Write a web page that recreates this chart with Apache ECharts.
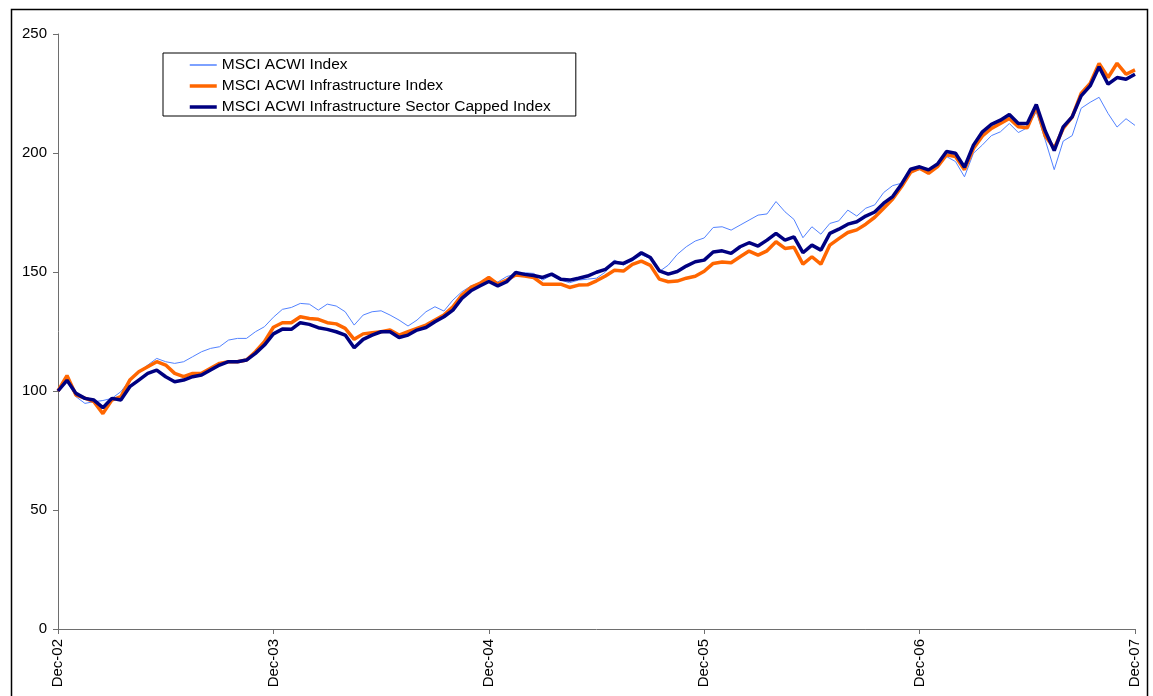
<!DOCTYPE html>
<html>
<head>
<meta charset="utf-8">
<title>MSCI ACWI Infrastructure</title>
<script src="https://cdn.jsdelivr.net/npm/echarts@6/dist/echarts.min.js"></script>
<style>
  html, body { margin: 0; padding: 0; background: #fff; }
  #chart { width: 1153px; height: 696px; }
</style>
</head>
<body>
<div id="chart"></div>
<script>
// x axis is months since Dec-02, one label every 12 months
const tickLabels = ['Dec-02', 'Dec-03', 'Dec-04', 'Dec-05', 'Dec-06', 'Dec-07']

const months = [
  0, 0.5, 1, 1.5, 2, 2.5, 3, 3.5, 4, 4.5, 5, 5.5, 6, 6.5, 7, 7.5, 8, 8.5, 9, 9.5, 10, 10.5, 11, 11.5,
  12, 12.5, 13, 13.5, 14, 14.5, 15, 15.5, 16, 16.5, 17, 17.5, 18, 18.5, 19, 19.5, 20, 20.5, 21, 21.5, 22, 22.5, 23, 23.5,
  24, 24.5, 25, 25.5, 26, 26.5, 27, 27.5, 28, 28.5, 29, 29.5, 30, 30.5, 31, 31.5, 32, 32.5, 33, 33.5, 34, 34.5, 35, 35.5,
  36, 36.5, 37, 37.5, 38, 38.5, 39, 39.5, 40, 40.5, 41, 41.5, 42, 42.5, 43, 43.5, 44, 44.5, 45, 45.5, 46, 46.5, 47, 47.5,
  48, 48.5, 49, 49.5, 50, 50.5, 51, 51.5, 52, 52.5, 53, 53.5, 54, 54.5, 55, 55.5, 56, 56.5, 57, 57.5, 58, 58.5, 59, 59.5,
  60
]

const acwi = [
  100, 104, 97.6, 94.8, 95.5, 96, 96.9, 99.7, 104.6, 108.1, 110.9, 113.7, 112.3, 111.6, 112.3, 114.4, 116.5, 117.9, 118.6, 121.4, 122.1, 122.1, 124.9, 127,
  131, 134.3, 135.1, 136.8, 136.5, 134, 136.5, 135.7, 133.3, 127.7, 131.9, 133.3, 133.7, 131.9, 129.8, 127.3, 129.8, 133.3, 135.4, 133.6, 138.2, 141.7, 144.1, 145.5,
  147, 145.8, 148.1, 149.1, 149.7, 149.4, 146.6, 148.7, 146.6, 145.5, 146.6, 147, 147.4, 150, 155, 152.9, 154.7, 157.2, 155.7, 150.2, 152.9, 157.4, 160.6, 163,
  164.3, 168.7, 169, 167.6, 169.7, 171.8, 173.9, 174.4, 179.6, 175.3, 172.1, 164.4, 169, 165.9, 170.4, 171.5, 176, 173.5, 176.8, 178.2, 183.4, 186.3, 187.3, 191.9,
  193, 192.2, 195, 198.5, 196.4, 190, 199.9, 203.4, 207.3, 208.9, 212.4, 208.6, 210.6, 217.3, 205.4, 193, 205, 207.3, 218.8, 221.3, 223.4, 216.6, 210.9, 214.4,
  211.6
]

const infra = [
  100, 106.5, 98.3, 97, 95.5, 90.5, 96.2, 97.6, 104.6, 108.1, 110.2, 112.3, 110.9, 107.4, 106, 107.4, 107.4, 109.5, 111.6, 112.3, 112.3, 113, 116.5, 120.7,
  126.8, 128.7, 128.7, 131.2, 130.5, 130.1, 128.7, 128.2, 126.3, 121.7, 124, 124.5, 124.9, 125.6, 123.5, 124.9, 126.3, 127.7, 129.8, 131.9, 135.4, 140.3, 143.5, 145.2,
  147.7, 144.9, 146.6, 148.7, 148.3, 147.7, 144.9, 144.9, 144.9, 143.5, 144.5, 144.6, 146.3, 148.3, 150.7, 150.4, 153.2, 154.6, 152.8, 147, 145.9, 146.2, 147.4, 148.2,
  150.3, 153.6, 154.2, 153.9, 156.4, 158.8, 157.1, 158.9, 162.7, 159.9, 160.4, 153.3, 156.4, 153.3, 161.3, 164, 166.6, 167.7, 170.1, 173, 176.8, 180.7, 185.9, 191.9,
  193.6, 191.5, 194.3, 199.2, 198.5, 193, 201.9, 207.2, 210.3, 212.4, 214.5, 211, 210.6, 219.4, 207.2, 202, 210.3, 215.2, 225, 229.2, 237.6, 231.7, 237.7, 233.1,
  234.9
]

const capped = [
  100, 104.5, 99, 96.9, 96.2, 93, 96.9, 96.2, 101.8, 104.6, 107.4, 108.8, 106, 103.9, 104.6, 106, 106.7, 108.8, 110.9, 112.3, 112.3, 113, 115.8, 119.3,
  124, 126, 125.9, 128.7, 128, 126.6, 125.9, 124.9, 123.5, 118.2, 121.7, 123.5, 124.9, 124.9, 122.5, 123.5, 125.6, 126.7, 129.1, 131.2, 134, 138.9, 142.1, 144.1,
  146, 144.2, 145.9, 149.8, 149, 148.5, 147.7, 149.1, 147, 146.6, 147.4, 148.3, 149.9, 151.1, 154.1, 153.6, 155.4, 158.1, 156.1, 150.5, 149.1, 150.2, 152.5, 154.3,
  155, 158.4, 158.9, 157.8, 160.6, 162.3, 160.9, 163.4, 166.2, 163.4, 164.8, 158.1, 161.3, 159.2, 166.2, 168, 170.1, 171.1, 173.5, 175.2, 178.9, 181.7, 187, 193.2,
  194.2, 192.9, 195.4, 200.6, 199.9, 194, 203.3, 208.9, 212, 213.8, 216.2, 212.4, 212.4, 220.4, 209.2, 201, 211, 215.2, 224, 228.2, 236.2, 228.9, 231.7, 231,
  233.1
]

const seriesNames = [
  'MSCI ACWI Index',
  'MSCI ACWI Infrastructure Index',
  'MSCI ACWI Infrastructure Sector Capped Index'
]
const seriesColors = ['#5282ff', '#ff6600', '#000080']
const seriesWidths = [1, 3.5, 3.5]

const fontFamily = '"Liberation Sans", Arial, sans-serif'

function pairs(values) {
  return values.map((v, i) => [months[i], v])
}

function lineSeries(idx, values) {
  const color = seriesColors[idx]
  return {
    name: seriesNames[idx],
    type: 'line',
    data: pairs(values),
    symbol: 'none',
    showSymbol: false,
    animation: false,
    lineStyle: { color, width: seriesWidths[idx] },
    itemStyle: { color }
  }
}

function buildOption() {
  return {
    backgroundColor: '#fff',
    textStyle: { fontFamily, color: '#000' },
    graphic: [
      {
        type: 'rect',
        silent: true,
        shape: { x: 11.5, y: 9.5, width: 1136, height: 700 },
        style: { fill: 'none', stroke: '#000', lineWidth: 1.5 }
      }
    ],
    legend: {
      orient: 'vertical',
      left: 163,
      top: 53,
      padding: [4, 25, 1, 25],
      itemWidth: 27,
      itemHeight: 16,
      itemGap: 5,
      borderColor: '#000',
      borderWidth: 1,
      itemStyle: { opacity: 0 },
      textStyle: { fontFamily, fontSize: 15.5, color: '#000', lineHeight: 16 },
      data: seriesNames.map((name, i) => ({
        name,
        lineStyle: { color: seriesColors[i], width: Math.max(seriesWidths[i], 1.5) }
      }))
    },
    grid: {
      left: 58,
      top: 34,
      width: 1077,
      height: 595,
      containLabel: false
    },
    xAxis: {
      type: 'value',
      min: 0,
      max: 60,
      interval: 12,
      axisLine: { show: true, lineStyle: { color: '#6e6e6e', width: 1 } },
      axisTick: { show: true, length: 5, lineStyle: { color: '#6e6e6e' } },
      splitLine: { show: false },
      axisLabel: {
        rotate: 90,
        margin: 10,
        fontSize: 15,
        color: '#000',
        fontFamily,
        showMaxLabel: true,
        formatter: (v) => tickLabels[Math.round(v / 12)] || ''
      }
    },
    yAxis: {
      type: 'value',
      min: 0,
      max: 250,
      interval: 50,
      axisLine: { show: true, lineStyle: { color: '#6e6e6e', width: 1 } },
      axisTick: { show: true, length: 5, lineStyle: { color: '#6e6e6e' } },
      splitLine: { show: false },
      axisLabel: { margin: 11, fontSize: 15, color: '#000', fontFamily }
    },
    series: [
      lineSeries(0, acwi),
      lineSeries(1, infra),
      lineSeries(2, capped)
    ]
  }
}

const chart = echarts.init(document.getElementById('chart'), null, { renderer: 'canvas' })
chart.setOption(buildOption())
</script>
</body>
</html>
